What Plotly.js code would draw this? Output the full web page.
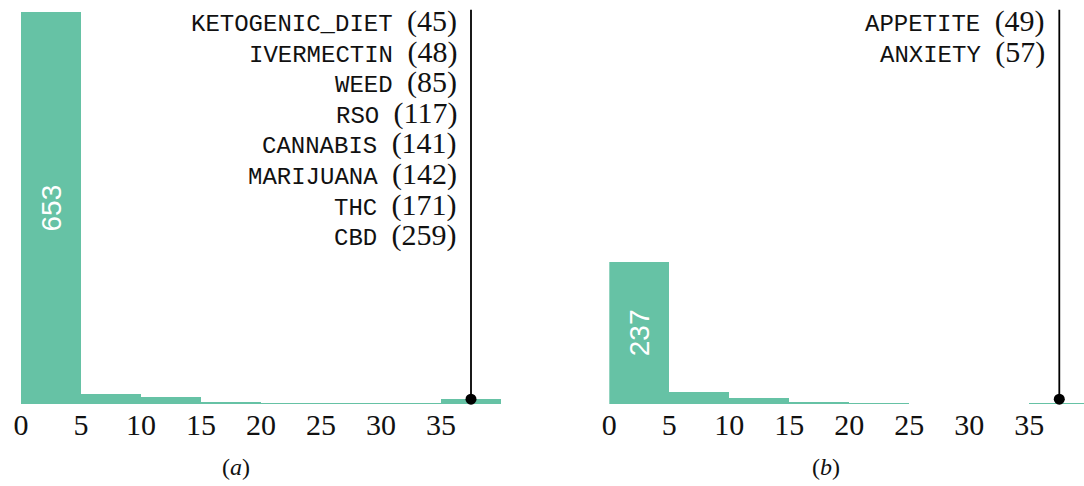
<!DOCTYPE html>
<html>
<head>
<meta charset="utf-8">
<script src="https://cdn.plot.ly/plotly-3.0.1.min.js"></script>
<style>html,body{margin:0;padding:0;background:#fff;}#chart{width:1084px;height:486px;}</style>
</head>
<body>
<div id="chart"></div>
<script>
// ---- data ----
const binStarts = [0, 5, 10, 15, 20, 25, 30, 35];
const countsA = [653, 17, 12, 4, 1, 2, 2, 8];
const countsB = [237, 20, 10, 4, 2, 0, 0, 2];
const tickVals = [0, 5, 10, 15, 20, 25, 30, 35];
const tickText = ['0', '5', '10', '15', '20', '25', '30', '35'];
const wordsA = ['KETOGENIC_DIET', 'IVERMECTIN', 'WEED', 'RSO', 'CANNABIS', 'MARIJUANA', 'THC', 'CBD'];
const wordCountsA = [45, 48, 85, 117, 141, 142, 171, 259];
const wordsB = ['APPETITE', 'ANXIETY'];
const wordCountsB = [49, 57];
const cutoff = 37.5;
const panelLabels = ['(<i>a</i>)', '(<i>b</i>)'];

// ---- style ----
const W = 1084, H = 486;
const barColor = '#66c2a5';
const serif = 'Liberation Serif, DejaVu Serif, serif';
const mono = 'Liberation Mono, DejaVu Sans Mono, monospace';
const sans = 'Liberation Sans, Arial, sans-serif';
const plotTop = 8, plotBottom = 404;
const yDom = [(H - plotBottom) / H, (H - plotTop) / H];
const yMax = 660;

function barTrace(vals, xa, ya) {
  return {
    type: 'bar', x: binStarts, y: vals, width: 5, offset: 0,
    xaxis: xa, yaxis: ya,
    marker: { color: barColor, line: { width: 0 } },
    text: vals.map((v, i) => i === 0 ? String(v) : ''),
    textposition: 'inside', insidetextanchor: 'middle', textangle: -90,
    insidetextfont: { family: sans, size: 28, color: '#ffffff' },
    hoverinfo: 'skip', showlegend: false
  };
}
function lineTrace(xa, ya) {
  return {
    type: 'scatter', mode: 'lines', x: [cutoff, cutoff], y: [8, 657],
    xaxis: xa, yaxis: ya, line: { color: '#000', width: 1.8 },
    hoverinfo: 'skip', showlegend: false
  };
}
function dotTrace(xa, ya) {
  return {
    type: 'scatter', mode: 'markers', x: [cutoff], y: [8],
    xaxis: xa, yaxis: ya, marker: { color: '#000', size: 11 },
    cliponaxis: false, hoverinfo: 'skip', showlegend: false
  };
}

const data = [
  barTrace(countsA, 'x', 'y'), lineTrace('x', 'y'), dotTrace('x', 'y'),
  barTrace(countsB, 'x2', 'y2'), lineTrace('x2', 'y2'), dotTrace('x2', 'y2')
];

function xAxis(dom, range) {
  return {
    domain: dom, range: range, showgrid: false, zeroline: false, showline: false,
    ticks: '', tickvals: tickVals, ticktext: tickText,
    tickfont: { family: serif, size: 30, color: '#111' }, fixedrange: true
  };
}
function yAxis(anchor) {
  return {
    domain: yDom, range: [0, yMax], visible: false, anchor: anchor, fixedrange: true
  };
}

const annotations = [];
function addWords(words, counts, xref) {
  words.forEach((w, i) => {
    annotations.push({
      xref: xref, yref: 'paper', x: cutoff, y: 1, xanchor: 'right', yanchor: 'middle',
      xshift: -12, yshift: -(21 + i * 30.6), showarrow: false,
      text: '<span style="font-family:' + mono + ';font-size:24px">' + w + ' </span>' +
            '<span style="font-family:' + serif + ';font-size:30px">(' + counts[i] + ')</span>',
      font: { color: '#111' }
    });
  });
}
addWords(wordsA, wordCountsA, 'x');
addWords(wordsB, wordCountsB, 'x2');

annotations.push({ xref: 'paper', yref: 'paper', x: 236 / W, y: (H - 467) / H, xanchor: 'center', yanchor: 'middle',
  showarrow: false, text: panelLabels[0], font: { family: serif, size: 24, color: '#111' } });
annotations.push({ xref: 'paper', yref: 'paper', x: 826 / W, y: (H - 467) / H, xanchor: 'center', yanchor: 'middle',
  showarrow: false, text: panelLabels[1], font: { family: serif, size: 24, color: '#111' } });

const x0b = 609.3;
const layout = {
  width: W, height: H,
  margin: { l: 0, r: 0, t: 0, b: 0, pad: 0 },
  paper_bgcolor: '#fff', plot_bgcolor: 'rgba(0,0,0,0)',
  bargap: 0,
  xaxis: xAxis([21 / W, 501 / W], [0, 40]),
  yaxis: yAxis('x'),
  xaxis2: xAxis([x0b / W, 1], [0, (W - x0b) / 12]),
  yaxis2: yAxis('x2'),
  annotations: annotations
};
layout.xaxis.anchor = 'y';
layout.xaxis2.anchor = 'y2';

Plotly.newPlot('chart', data, layout, { staticPlot: true, displayModeBar: false });
</script>
</body>
</html>
